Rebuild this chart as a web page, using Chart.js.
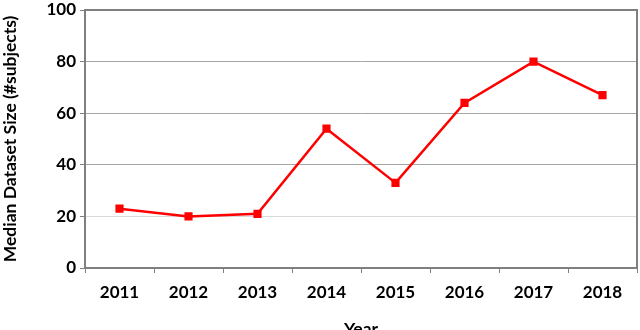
<!DOCTYPE html>
<html>
<head>
<meta charset="utf-8">
<script src="https://cdn.jsdelivr.net/npm/chart.js@4/dist/chart.umd.min.js"></script>
<style>
  html, body { margin: 0; padding: 0; background: #fff; }
  #wrap { width: 640px; height: 330px; }
</style>
</head>
<body>
<div id="wrap"><canvas id="lineChart" width="640" height="330"></canvas></div>
<script>
// 데이터
const years = ['2011', '2012', '2013', '2014', '2015', '2016', '2017', '2018'];
const medianSize = [23, 20, 21, 54, 33, 64, 80, 67];
const yTicks = [0, 20, 40, 60, 80, 100];

const tickFont = { family: 'Lato', weight: 'bold', size: 17 };
const titleFont = { family: 'Lato', weight: 'bold', size: 17.5 };

// 플롯 테두리 (위/오른쪽 포함)
const frame = {
  id: 'frame',
  afterDraw(chart) {
    const { ctx, chartArea: a } = chart;
    ctx.save();
    ctx.strokeStyle = '#7f7f7f';
    ctx.lineWidth = 2;
    ctx.strokeRect(a.left, a.top, a.right - a.left, a.bottom - a.top);
    ctx.restore();
  }
};

new Chart(document.getElementById('lineChart'), {
  type: 'line',
  data: {
    labels: years,
    datasets: [{
      label: 'Median Dataset Size',
      data: medianSize,
      borderColor: '#ff0000',
      backgroundColor: '#ff0000',
      borderWidth: 2.5,
      pointStyle: 'rect',
      pointRadius: 4,
      pointHoverRadius: 4,
      tension: 0
    }]
  },
  options: {
    responsive: false,
    animation: false,
    layout: { autoPadding: false, padding: { top: 10, right: 3, bottom: 0, left: 0 } },
    plugins: {
      legend: { display: false },
      tooltip: { enabled: false }
    },
    scales: {
      x: {
        offset: true,
        grid: {
          offset: true,
          drawOnChartArea: false,
          drawTicks: true,
          tickLength: 5,
          color: '#7f7f7f'
        },
        border: { color: '#7f7f7f', width: 2 },
        ticks: { color: '#000', font: tickFont, padding: 9, maxRotation: 0 },
        title: {
          display: true,
          text: 'Year',
          color: '#000',
          font: titleFont,
          padding: { top: 4, bottom: -10 }
        },
        afterFit(scale) { scale.height = 62; scale.paddingRight = 0; }
      },
      y: {
        min: 0,
        max: 100,
        afterBuildTicks(scale) { scale.ticks = yTicks.map(v => ({ value: v })); },
        grid: {
          color: ctx => (ctx.tick && ctx.tick.value === 20) ? '#d9d9d9' : '#a6a6a6',
          lineWidth: 1,
          tickLength: 5,
          tickColor: '#7f7f7f'
        },
        border: { color: '#6f6f6f', width: 2 },
        ticks: { color: '#000', font: tickFont, padding: 4 },
        title: {
          display: true,
          text: 'Median Dataset Size (#subjects)',
          color: '#000',
          font: titleFont,
          padding: { top: 0, bottom: 4 }
        },
        afterFit(scale) { scale.width = 85; scale.paddingTop = 0; scale.paddingBottom = 0; }
      }
    }
  },
  plugins: [frame]
});
</script>
</body>
</html>
